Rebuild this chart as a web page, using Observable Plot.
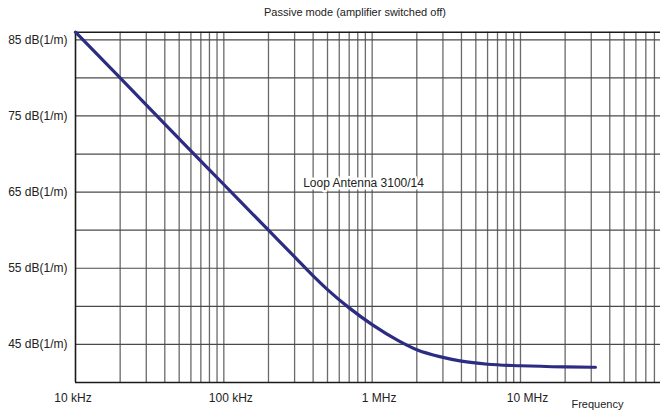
<!DOCTYPE html>
<html>
<head>
<meta charset="utf-8">
<script src="https://cdn.jsdelivr.net/npm/d3@7"></script>
<script src="https://cdn.jsdelivr.net/npm/@observablehq/plot@0.6"></script>
<style>
  html, body { margin: 0; padding: 0; background: #fff; }
  body { width: 660px; height: 411px; overflow: hidden; font-family: "Liberation Sans", Arial, sans-serif; }
  #title { height: 24px; line-height: 24px; font-size: 11px; color: #222; text-align: center; margin-left: 50px; }
</style>
</head>
<body>
<div id="title">Passive mode (amplifier switched off)</div>
<div id="chart"></div>
<script>
// Antenna factor curve (frequency in Hz, value in dB(1/m))
const freqs  = [1e4, 2e4, 5e4, 1e5, 2e5, 3e5, 4e5, 5e5, 7e5, 1e6, 1.5e6, 2e6, 3e6, 4e6, 6e6, 1e7, 2e7, 3.2e7];
const factor = [86, 80, 72, 66, 60, 56.5, 54.0, 52.2, 49.8, 47.6, 45.5, 44.3, 43.3, 42.8, 42.4, 42.2, 42.05, 42.0];

// axis ticks / labels
const xTicks = [1e4, 1e5, 1e6, 1e7];
const xTickLabels = ["10 kHz", "100 kHz", "1 MHz", "10 MHz"];
const yTicks = [45, 55, 65, 75, 85];
const yTickUnit = "dB(1/m)";
const yGrid = [45, 50, 55, 60, 65, 70, 75, 80, 85];
const xGrid = [2e4,3e4,4e4,5e4,6e4,7e4,8e4,9e4,
               1e5,2e5,3e5,4e5,5e5,6e5,7e5,8e5,9e5,
               1e6,2e6,3e6,4e6,5e6,6e6,7e6,8e6,9e6,
               1e7,2e7,3e7,4e7,5e7,6e7,7e7,8e7];
const xDomain = [1e4, 8.79e7];
const yDomain = [40, 86];

// annotations
const seriesLabel = ["Loop Antenna 3100/14"];
const seriesLabelFreq = [8.75e5];
const seriesLabelValue = [66.2];
const xAxisLabel = ["Frequency"];
const xAxisLabelFreq = [3.3e7];

const data = freqs.map((f, i) => ({f, v: factor[i]}));
const tickData = xTicks.map((f, i) => ({f, label: xTickLabels[i]}));

const chart = Plot.plot({
  width: 660,
  height: 387,
  marginLeft: 75,
  marginRight: 0,
  marginTop: 7.7,
  marginBottom: 29,
  style: {fontFamily: "'Liberation Sans', Arial, sans-serif", fontSize: "12px", color: "#222", background: "#fff"},
  x: {type: "log", domain: xDomain, axis: null},
  y: {domain: yDomain, axis: null},
  marks: [
    Plot.ruleX(xGrid, {x: d => d, stroke: "#6a6a6a", strokeWidth: 1.3, strokeOpacity: 1}),
    Plot.ruleY(yGrid, {y: d => d, stroke: "#4a4a4a", strokeWidth: 1.2, strokeOpacity: 1}),
    Plot.ruleY([yDomain[0], yDomain[1]], {y: d => d, stroke: "#1a1a1a", strokeWidth: 1.6}),
    Plot.ruleX([xDomain[0]], {x: d => d, stroke: "#1a1a1a", strokeWidth: 1.6}),
    Plot.axisY({ticks: yTicks, tickFormat: d => `${d} ${yTickUnit}`, tickSize: 0, tickPadding: 8, fontSize: 12, fill: "#222", label: null}),
    Plot.line(data, {x: "f", y: "v", stroke: "#2c2c82", strokeWidth: 3.2, curve: "monotone-x"}),
    Plot.text(tickData.slice(0, 1), {x: "f", y: () => yDomain[0], text: "label", dy: 16, dx: -2.5, fontSize: 12, fill: "#222"}),
    Plot.text(tickData.slice(1), {x: "f", y: () => yDomain[0], text: "label", dy: 16, dx: 7, fontSize: 12, fill: "#222"}),
    Plot.text(seriesLabel, {x: (d, i) => seriesLabelFreq[i], y: (d, i) => seriesLabelValue[i], text: d => d, fontSize: 12, fill: "#222", stroke: "white", strokeWidth: 5}),
    Plot.text(xAxisLabel, {x: (d, i) => xAxisLabelFreq[i], y: () => yDomain[0], text: d => d, dy: 22, fontSize: 11, fill: "#222"})
  ]
});
document.getElementById("chart").appendChild(chart);
</script>
</body>
</html>
